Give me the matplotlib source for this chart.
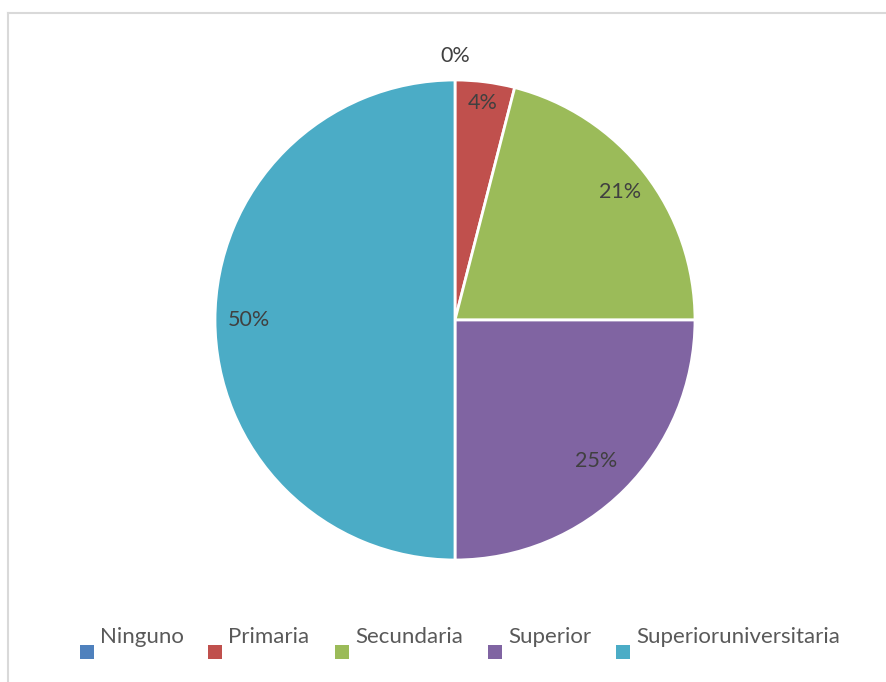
import numpy as np
import matplotlib.pyplot as plt
from matplotlib.patches import Rectangle
from matplotlib.lines import Line2D

# ---- data ----
categorias = ['Ninguno', 'Primaria', 'Secundaria', 'Superior', 'Superioruniversitaria']
porcentajes = [0, 4, 21, 25, 50]
colores = ['#4F81BD', '#C0504D', '#9BBB59', '#8064A2', '#4BACC6']
# ----------------

plt.rcParams['font.family'] = ['Lato', 'DejaVu Sans']

W, H = 887, 682
fig = plt.figure(figsize=(W / 100, H / 100), dpi=100)

# pie centre (455, 320), radius 240 px
R = 240
cx, cy = 455, 320
ax = fig.add_axes([(cx - R) / W, 1 - (cy + R) / H, 2 * R / W, 2 * R / H])

wedges, _ = ax.pie(porcentajes, colors=colores, startangle=90, counterclock=False,
                   radius=1, wedgeprops=dict(edgecolor='white', linewidth=2))
# pie() resets the limits, so fix them afterwards
ax.set_xlim(-1, 1)
ax.set_ylim(-1, 1)
ax.axis('off')

# percentage labels, spaced along each slice's mid angle
dist = [1.10, 0.91, 0.87, 0.83, 0.86]
total = sum(porcentajes)
acum = 0
for val, d in zip(porcentajes, dist):
    mid = acum + val / 2
    ang = np.deg2rad(90 - 360 * mid / total)
    ax.text(d * np.cos(ang), d * np.sin(ang), f'{val}%', ha='center', va='center',
            fontsize=15.5, color='#404040', clip_on=False)
    acum += val

# outer frame (top and left edges visible)
fig.add_artist(Line2D([8.5 / W, 8.5 / W], [0, 1 - 12.5 / H], transform=fig.transFigure,
                      color='#D9D9D9', linewidth=1.5))
fig.add_artist(Line2D([8.5 / W, 886 / W], [1 - 12.5 / H, 1 - 12.5 / H], transform=fig.transFigure,
                      color='#D9D9D9', linewidth=1.5))

# legend: square sits below the text baseline
leg_x = [80, 208, 335, 488, 616]
for x, nombre, c in zip(leg_x, categorias, colores):
    fig.add_artist(Rectangle((x / W, 1 - 659 / H), 14 / W, 14 / H,
                             transform=fig.transFigure, facecolor=c, edgecolor='none'))
    fig.text((x + 20) / W, 1 - 643 / H, nombre, ha='left', va='baseline',
             fontsize=16, color='#595959')

fig.savefig('out.png', dpi=100, facecolor='white')
